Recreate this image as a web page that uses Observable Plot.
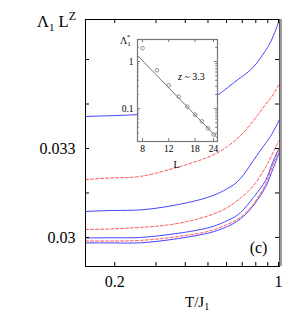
<!DOCTYPE html>
<html><head><meta charset="utf-8">
<script src="https://cdn.jsdelivr.net/npm/d3@7"></script>
<script src="https://cdn.jsdelivr.net/npm/@observablehq/plot@0.6"></script>
<style>
body{margin:0;background:#fff;}
#wrap{position:relative;width:307px;height:314px;font-family:"Liberation Serif","Times New Roman",Times,serif;overflow:hidden;}
#wrap svg{position:absolute;}
#wrap svg text{font-family:"Liberation Serif","Times New Roman",Times,serif;}
.lbl{position:absolute;white-space:nowrap;line-height:1;color:#000;}
.sb{position:relative;}
</style></head><body>
<div id="wrap"></div>
<script>
// ---- main panel data ----
const temps = [0.15, 0.2, 0.258, 0.357, 0.498, 0.606, 0.689, 0.782, 0.88, 0.934, 0.99, 1.0];
const curve1 = [0.03408, 0.03411, 0.03415, 0.03428, 0.03462, 0.03505, 0.03539, 0.03575, 0.0363, 0.03666, 0.03715, 0.03731];
const curve2 = [0.03195, 0.03201, 0.03206, 0.03233, 0.0327, 0.03307, 0.03344, 0.03394, 0.03448, 0.03474, 0.03506, 0.03516];
const curve3 = [0.030876, 0.03091, 0.03093, 0.03108, 0.03135, 0.03165, 0.03199, 0.0326, 0.03317, 0.03347, 0.03384, 0.03394];
const curve4 = [0.03027, 0.03029, 0.03034, 0.03045, 0.03072, 0.03101, 0.03133, 0.03175, 0.03236, 0.03276, 0.03317, 0.03327];
const curve5 = [0.02998, 0.02999, 0.03, 0.03012, 0.03032, 0.03057, 0.03084, 0.03135, 0.03192, 0.03243, 0.0329, 0.033];
const curve6 = [0.02988, 0.02988, 0.0299, 0.03001, 0.0302, 0.03044, 0.03068, 0.03113, 0.03179, 0.03233, 0.0328, 0.03293];
const curve7 = [0.029815, 0.029815, 0.02982, 0.02994, 0.03014, 0.03037, 0.03063, 0.03108, 0.0317, 0.03219, 0.0327, 0.03283];
const curves = [curve1, curve2, curve3, curve4, curve5, curve6, curve7];
const xTickValues = [0.2, 0.3, 0.4, 0.5, 0.6, 0.7, 0.8, 0.9, 1];
const xTickLabels = [0.2, 1];
const yTickValues = [0.03, 0.0315, 0.033, 0.0345, 0.036];
const yTickLabels = [0.03, 0.033];

// ---- inset data ----
const sizesL = [8, 10, 12, 14, 16, 18, 20, 22, 24];
const lambdaStar = [1.92, 0.653, 0.313, 0.180, 0.110, 0.0745, 0.0537, 0.0381, 0.028];
const fitL = [7.4, 25.5];
const fitLambda = [1.34, 0.0236];
const insetXTicks = [8, 12, 18, 24];
const insetYTicks = [0.1, 1];
const insetYMinor = [0.02,0.03,0.04,0.05,0.06,0.07,0.08,0.09,0.2,0.3,0.4,0.5,0.6,0.7,0.8,0.9,2];

const rows = [];
curves.forEach((c, i) => c.forEach((v, j) => rows.push({T: temps[j], v, s: i})));
const solid = rows.filter(d => d.s % 2 === 0);
const dashed = rows.filter(d => d.s % 2 === 1);

const W = 307, H = 314, mL = 85, mR = 28, mT = 19, mB = 48;
const pw = W - mL - mR, ph = H - mT - mB;
const serif = "'Liberation Serif', 'Times New Roman', Times, serif";

const main = Plot.plot({
  width: W, height: H,
  marginLeft: mL, marginRight: mR, marginTop: mT, marginBottom: mB,
  style: {background: "transparent", fontFamily: serif, fontSize: "16px", color: "black"},
  x: {type: "log", domain: [0.15, 1.01]},
  y: {type: "linear", domain: [0.02902, 0.03735]},
  marks: [
    Plot.line(solid, {x: "T", y: "v", z: "s", stroke: "#4545ff", strokeWidth: 1, curve: "natural", clip: true}),
    Plot.line(dashed, {x: "T", y: "v", z: "s", stroke: "#ff5555", strokeWidth: 1, strokeDasharray: "3,2", curve: "natural", clip: true}),
    Plot.ruleX(xTickValues, {x: d => d, insetTop: ph - 4, stroke: "black"}),
    Plot.ruleX(xTickValues, {x: d => d, insetBottom: ph - 4, stroke: "black"}),
    Plot.ruleY(yTickValues, {y: d => d, insetRight: pw - 4, stroke: "black"}),
    Plot.ruleY(yTickValues, {y: d => d, insetLeft: pw - 4, stroke: "black"}),
    Plot.frame({stroke: "black"}),
    Plot.ruleX([1.01], {x: d => d, stroke: "#999", strokeWidth: 2.5, dx: 1.2}),
    Plot.axisX({ticks: xTickLabels, tickSize: 0, tickPadding: 9, tickFormat: d => String(d), label: null}),
    Plot.axisY({ticks: yTickLabels, tickSize: 0, tickPadding: 10, tickFormat: d => String(d), label: null}),
    Plot.text(["(c)"], {text: d => d, frameAnchor: "bottom-right", dx: -21, dy: -19, textAnchor: "middle", lineAnchor: "middle"})
  ]
});
main.style.left = "0px"; main.style.top = "0px";

const iL = 31, iR = 4, iT = 9, iB = 20, iw = 80, ih = 102;
const ptsData = sizesL.map((L, i) => ({L, v: lambdaStar[i]}));
const fitData = fitL.map((L, i) => ({L, v: fitLambda[i]}));
const inset = Plot.plot({
  width: iL + iw + iR, height: iT + ih + iB,
  marginLeft: iL, marginRight: iR, marginTop: iT, marginBottom: iB,
  style: {background: "transparent", fontFamily: serif, fontSize: "9.5px", color: "black"},
  x: {type: "log", domain: [7.4, 25.5]},
  y: {type: "log", domain: [0.02, 2.94]},
  marks: [
    Plot.frame({fill: "white", stroke: "none"}),
    Plot.line(fitData, {x: "L", y: "v", stroke: "#666", strokeWidth: 0.9, clip: true}),
    Plot.dot(ptsData, {x: "L", y: "v", r: 1.8, stroke: "#777", strokeWidth: 0.8, fill: "none"}),
    Plot.ruleX(insetXTicks, {x: d => d, insetTop: ih - 3, stroke: "#777"}),
    Plot.ruleX(insetXTicks, {x: d => d, insetBottom: ih - 3, stroke: "#777"}),
    Plot.ruleY(insetYTicks, {y: d => d, insetRight: iw - 3, stroke: "#777"}),
    Plot.ruleY(insetYTicks, {y: d => d, insetLeft: iw - 3, stroke: "#777"}),
    Plot.ruleY(insetYMinor, {y: d => d, insetRight: iw - 1.8, stroke: "#777"}),
    Plot.ruleY(insetYMinor, {y: d => d, insetLeft: iw - 1.8, stroke: "#777"}),
    Plot.frame({stroke: "#777", strokeWidth: 1.2}),
    Plot.axisX({ticks: insetXTicks, tickSize: 0, tickPadding: 4, tickFormat: d => String(d), label: null}),
    Plot.axisY({ticks: insetYTicks, tickSize: 0, tickPadding: 4, tickFormat: d => String(d), label: null})
  ]
});
inset.style.left = "106px"; inset.style.top = "30px";

const wrap = document.getElementById("wrap");
wrap.appendChild(main);
wrap.appendChild(inset);

function label(html, left, top, size) {
  const d = document.createElement("div");
  d.className = "lbl";
  d.style.left = left + "px"; d.style.top = top + "px"; d.style.fontSize = size + "px";
  d.innerHTML = html;
  wrap.appendChild(d);
}
label('Λ<span class="sb" style="font-size:11px;top:4px">1</span> L<span class="sb" style="font-size:12px;top:-7px">Z</span>', 37, 14, 16.5);
label('T/J<span class="sb" style="font-size:10px;top:3px">1</span>', 185, 295, 15);
label('Λ<span class="sb" style="font-size:7px;top:2px">1</span><span class="sb" style="font-size:7px;top:-5px;left:-4px">*</span>', 120, 36, 10);
label('L', 173.5, 159.5, 10);
label('<i>z</i> ~ 3.3', 178, 71.5, 10);
</script>
</body></html>
